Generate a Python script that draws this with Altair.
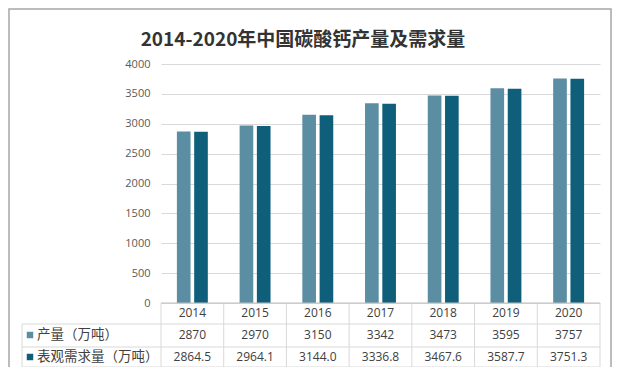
import altair as alt
import pandas as pd

years = ["2014", "2015", "2016", "2017", "2018", "2019", "2020"]
production = [2870, 2970, 3150, 3342, 3473, 3595, 3757]
demand = [2864.5, 2964.1, 3144.0, 3336.8, 3467.6, 3587.7, 3751.3]
series = ["产量（万吨）", "表观需求量（万吨）"]
colors = ["#5B8EA3", "#0F5F7B"]
title_text = "2014-2020年中国碳酸钙产量及需求量"
y_ticks = [0, 500, 1000, 1500, 2000, 2500, 3000, 3500, 4000]

long = pd.DataFrame({
    "year": years * 2,
    "series": [series[0]] * len(years) + [series[1]] * len(years),
    "value": production + demand,
})
table = pd.DataFrame({
    "year": years,
    "prod_txt": [str(v) for v in production],
    "dem_txt": [f"{v:.1f}" for v in demand],
})
dummy = pd.DataFrame({"a": [0]})

W, H = 439, 239
xscale = alt.Scale(domain=years, paddingInner=0, paddingOuter=0)

bars = alt.Chart(long).mark_bar().encode(
    x=alt.X("year:N", scale=xscale, axis=None),
    xOffset=alt.XOffset("series:N", sort=series,
                        scale=alt.Scale(paddingInner=0.21, paddingOuter=0.92)),
    y=alt.Y("value:Q", scale=alt.Scale(domain=[0, 4000]),
            axis=alt.Axis(values=y_ticks, format="d", grid=True, domain=False, ticks=False,
                          title=None, labelPadding=11, labelFontSize=11,
                          labelColor="#595959", labelFont="Open Sans",
                          gridColor="#D9D9D9")),
    color=alt.Color("series:N", scale=alt.Scale(domain=series, range=colors), legend=None),
)

txt_style = dict(fontSize=12, font="Open Sans", color="#404040", baseline="middle", align="center")
year_txt = alt.Chart(table).mark_text(**txt_style).encode(
    x=alt.X("year:N", scale=xscale), y=alt.value(249), text="year:N")
prod_txt = alt.Chart(table).mark_text(**txt_style).encode(
    x=alt.X("year:N", scale=xscale), y=alt.value(271), text="prod_txt:N")
dem_txt = alt.Chart(table).mark_text(**txt_style).encode(
    x=alt.X("year:N", scale=xscale), y=alt.value(293), text="dem_txt:N")

line_color = "#D9D9D9"
vlines = alt.Chart(table).mark_rule(color=line_color, strokeWidth=1).encode(
    x=alt.X("year:N", scale=xscale, bandPosition=0), y=alt.value(239), y2=alt.value(303))

layers = [bars, year_txt, prod_txt, dem_txt, vlines]

def rule(x, x2, y, y2, color=line_color, sw=1):
    return alt.Chart(dummy).mark_rule(color=color, strokeWidth=sw).encode(
        x=alt.value(x), x2=alt.value(x2), y=alt.value(y), y2=alt.value(y2))

layers += [
    rule(W, W, 239, 303),
    rule(-139, -139, 260, 303),
    rule(-139, W, 260, 260),
    rule(-139, W, 283, 283),
    rule(-139, W, 303, 303),
    rule(0, W, 239, 239, color="#BFBFBF"),
]

for name, col, yy in zip(series, colors, [271, 293]):
    layers.append(alt.Chart(pd.DataFrame({"s": [name]})).mark_square(
        size=42, opacity=1, color=col).encode(x=alt.value(-131), y=alt.value(yy)))
    layers.append(alt.Chart(pd.DataFrame({"s": [name]})).mark_text(
        align="left", baseline="middle", fontSize=13.5, font="Noto Sans CJK SC", color="#404040"
    ).encode(x=alt.value(-124), y=alt.value(yy), text="s:N"))

title = alt.Chart(pd.DataFrame({"t": [title_text]})).mark_text(
    fontSize=19, fontWeight="bold", font="Noto Sans CJK SC", color="#333333",
    align="center", baseline="middle"
).encode(x=alt.value(142), y=alt.value(-24), text="t:N")

border = alt.Chart(dummy).mark_rect(fill=None, stroke="#A6A6A6", strokeWidth=1.5, filled=False).encode(
    x=alt.value(-152), x2=alt.value(450), y=alt.value(-55), y2=alt.value(304))

chart = alt.layer(*layers, title, border).properties(
    width=W, height=H,
    autosize=alt.AutoSizeParams(type="none"),
    padding={"left": 153, "top": 56, "right": 12, "bottom": 64},
    background="white",
).configure_view(stroke=None)

chart.save("out.html", embed_options={"renderer": "svg", "actions": False})
